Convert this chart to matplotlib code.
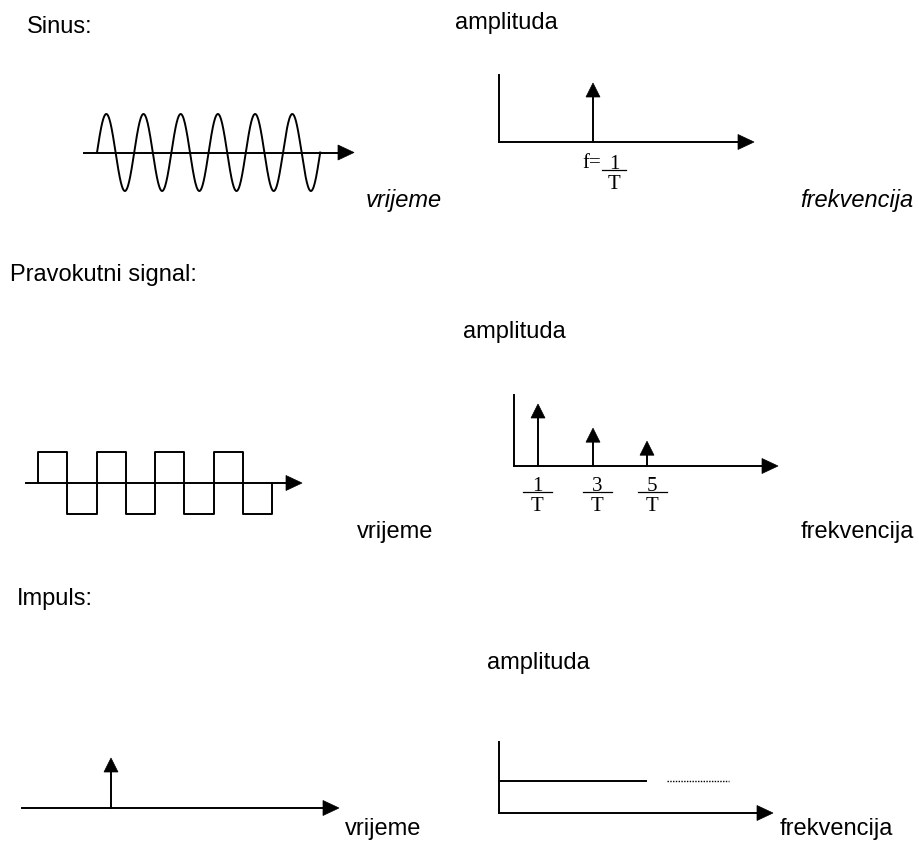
import numpy as np
import matplotlib
matplotlib.use("Agg")
import matplotlib.pyplot as plt

# podaci za signale (relativne vrijednosti)
sine_cycles = 6
square_levels = [1, -1, 1, -1, 1, -1, 1, -1]
harmonic_labels = ["1", "3", "5"]
harmonic_amplitudes = [1.0, 0.61, 0.40]
sine_peak = [1.0]
impulse_height = [1.0]
flat_level = 0.45

section_titles = ["Sinus:", "Pravokutni signal:", "Impuls:"]

plt.rcParams["font.family"] = ["Liberation Sans", "DejaVu Sans"]

fig = plt.figure(figsize=(9.19, 8.41), dpi=100)
ax = fig.add_axes([0, 0, 1, 1])
ax.set_xlim(0, 919)
ax.set_ylim(841, 0)
ax.axis("off")

LW = 1.4
K = "black"


def arrow_right(x_tip, y, length=16, half=7.5):
    ax.fill([x_tip - length, x_tip, x_tip - length], [y - half, y, y + half],
            color=K, lw=0.5)


def arrow_up(x, y_tip, length=14, half=7):
    ax.fill([x - half, x, x + half], [y_tip + length, y_tip, y_tip + length],
            color=K, lw=0.5)


def stem(x, y0, height):
    ax.plot([x, x], [y0, y0 - height + 8], color=K, lw=LW)
    arrow_up(x, y0 - height)


def fraction(x, y, num, prefix=None, width=26):
    ax.text(x, y - 1, num, ha="center", va="baseline", fontsize=15,
            family="Liberation Serif")
    ax.plot([x - width / 2, x + width / 2], [y, y], color=K, lw=0.9)
    ax.text(x, y + 19, "T", ha="center", va="baseline", fontsize=15,
            family="Liberation Serif")
    if prefix:
        ax.text(x - width / 2 - 1, y - 2, prefix, ha="right", va="baseline",
                fontsize=15, family="Liberation Serif")


FS = 17

# ---- red 1: sinus ----
ax.text(27, 33, section_titles[0], fontsize=FS, va="baseline")
ax.text(455, 29, "amplituda", fontsize=FS, va="baseline")
ax.text(366, 207, "vrijeme", fontsize=FS, va="baseline", style="italic")
ax.text(800, 207, "frekvencija", fontsize=FS, va="baseline", style="italic")

y_ax = 152.5
ax.plot([84, 340], [y_ax, y_ax], color=K, lw=LW)
arrow_right(354, y_ax)
t = np.linspace(0, sine_cycles, 600)
period = 37.2
ax.plot(97 + t * period, y_ax - 38.5 * np.sin(2 * np.pi * t), color=K, lw=LW)

# spektar sinusa
ax.plot([499, 499], [75, 142], color=K, lw=LW)
ax.plot([499, 740], [142, 142], color=K, lw=LW)
arrow_right(754, 142)
for a in sine_peak:
    stem(593, 142, 59 * a)
fraction(614, 170, "1", prefix="f=", width=24)

# ---- red 2: pravokutni signal ----
ax.text(10, 281, section_titles[1], fontsize=FS, va="baseline")
ax.text(463, 338, "amplituda", fontsize=FS, va="baseline")
ax.text(357, 538, "vrijeme", fontsize=FS, va="baseline")
ax.text(801, 538, "frekvencija", fontsize=FS, va="baseline")

y_sq = 483
ax.plot([26, 288], [y_sq, y_sq], color=K, lw=LW)
arrow_right(302, y_sq)
half_period = 29.25
x0 = 38
xs, ys = [x0], [y_sq]
for i, lev in enumerate(square_levels):
    xs += [x0 + i * half_period, x0 + (i + 1) * half_period]
    ys += [y_sq - 31 * lev, y_sq - 31 * lev]
xs.append(x0 + len(square_levels) * half_period)
ys.append(y_sq)
ax.plot(xs, ys, color=K, lw=LW)

# spektar pravokutnog signala
ax.plot([514, 514], [395, 466], color=K, lw=LW)
ax.plot([514, 764], [466, 466], color=K, lw=LW)
arrow_right(778, 466)
harm_x = [538, 593, 647]
for hx, a in zip(harm_x, harmonic_amplitudes):
    stem(hx, 466, 62 * a)
for hx, lab in zip([537, 597, 652], harmonic_labels):
    fraction(hx, 492, lab, width=29)

# ---- red 3: impuls ----
ax.text(17, 605, section_titles[2], fontsize=FS, va="baseline")
ax.text(487, 669, "amplituda", fontsize=FS, va="baseline")
ax.text(345, 835, "vrijeme", fontsize=FS, va="baseline")
ax.text(780, 835, "frekvencija", fontsize=FS, va="baseline")

y_im = 808
ax.plot([22, 325], [y_im, y_im], color=K, lw=LW)
arrow_right(339, y_im)
for a in impulse_height:
    stem(111, y_im, 50 * a)

# spektar impulsa
ax.plot([499, 499], [742, 813], color=K, lw=LW)
ax.plot([499, 759], [813, 813], color=K, lw=LW)
arrow_right(773, 813)
y_flat = 813 - 71 * flat_level
ax.plot([499, 646], [y_flat, y_flat], color=K, lw=LW)
ax.plot([667, 729], [y_flat, y_flat], color=K, lw=1.0, ls=(0, (1, 1)))

fig.savefig("out.png", dpi=100, facecolor="white")
